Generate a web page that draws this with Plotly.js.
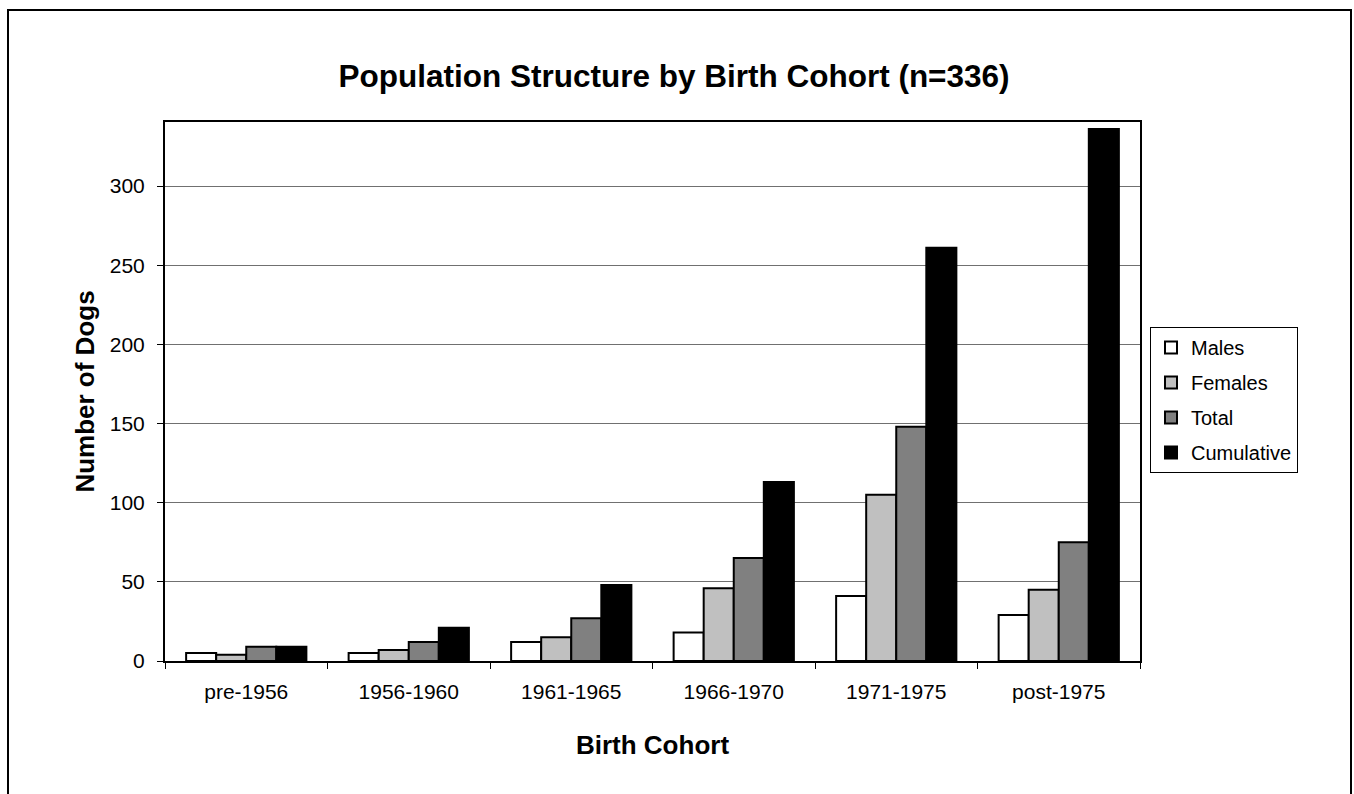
<!DOCTYPE html>
<html>
<head>
<meta charset="utf-8">
<script src="https://cdn.plot.ly/plotly-3.0.1.min.js"></script>
<style>
  html, body { margin: 0; padding: 0; background: #fff; overflow: hidden; }
  #frame { position: absolute; left: 7px; top: 9px; width: 1345px; height: 800px; border: 2px solid #000; box-sizing: border-box; pointer-events: none; z-index: 2; }
  #chart { position: absolute; left: 0; top: 0; width: 1354px; height: 794px; }
</style>
</head>
<body>
<div id="chart"></div>
<div id="frame"></div>
<script>
const categories = ["pre-1956", "1956-1960", "1961-1965", "1966-1970", "1971-1975", "post-1975"];
const males      = [5, 5, 12, 18, 41, 29];
const females    = [4, 7, 15, 46, 105, 45];
const total      = [9, 12, 27, 65, 148, 75];
const cumulative = [9, 21, 48, 113, 261, 336];
const seriesNames = ["Males", "Females", "Total", "Cumulative"];
const seriesColors = ["#ffffff", "#c0c0c0", "#808080", "#000000"];
const seriesData = [males, females, total, cumulative];

const traces = seriesData.map((vals, i) => ({
  type: "bar",
  name: seriesNames[i],
  x: categories,
  y: vals,
  legendgroup: "g" + i,
  marker: { color: seriesColors[i], line: { color: "#000", width: 2 } },
  hoverinfo: "x+y+name"
}));

const FONT = "Liberation Sans, Arial, sans-serif";

const layout = {
  width: 1354, height: 794,
  margin: { l: 165, r: 214, t: 122, b: 133 },
  paper_bgcolor: "#fff",
  plot_bgcolor: "#fff",
  font: { family: FONT, color: "#000", size: 20 },
  title: {
    text: "<b>Population Structure by Birth Cohort (n=336)</b>",
    font: { size: 31.5, family: FONT, color: "#000" },
    x: (674 - 165) / 975, xref: "paper", xanchor: "center",
    y: 1 - 76 / 794, yref: "container", yanchor: "middle"
  },
  barmode: "group",
  bargap: 0.26,
  bargroupgap: 0,
  showlegend: true,
  legend: {
    x: (1150 - 165) / 975, xanchor: "left",
    y: (661 - 327) / 539, yanchor: "top",
    bordercolor: "#000", borderwidth: 1,
    bgcolor: "#fff",
    font: { size: 20 },
    traceorder: "grouped",
    tracegroupgap: 6,
    itemwidth: 30
  },
  xaxis: {
    type: "category",
    tickson: "boundaries",
    ticks: "outside", ticklen: 6, tickwidth: 1, tickcolor: "#000",
    ticklabelstandoff: 11,
    showline: true, linecolor: "#000", linewidth: 2, mirror: true,
    showgrid: false,
    tickfont: { size: 21 },
    title: { text: "<b>Birth Cohort</b>", font: { size: 26 }, standoff: 34 }
  },
  yaxis: {
    range: [0, 340.5],
    tickvals: [0, 50, 100, 150, 200, 250, 300],
    ticks: "outside", ticklen: 6, tickwidth: 1, tickcolor: "#000",
    ticklabelstandoff: 8,
    showline: true, linecolor: "#000", linewidth: 2, mirror: true,
    showgrid: true, gridcolor: "#707070", gridwidth: 1,
    zeroline: false,
    tickfont: { size: 21 },
    title: { text: "<b>Number of Dogs</b>", font: { size: 26 }, standoff: 8 }
  }
};

Plotly.newPlot("chart", traces, layout, { displayModeBar: false });
</script>
</body>
</html>
